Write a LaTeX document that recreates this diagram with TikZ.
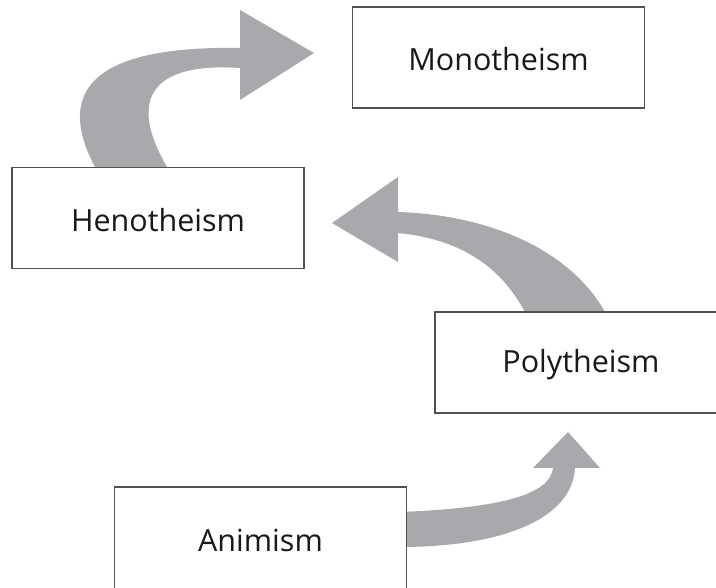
\documentclass[tikz,border=0pt]{standalone}
\usepackage{fontspec}
\setmainfont{Open Sans}
\definecolor{arrowgray}{HTML}{A7A9AC}
\definecolor{boxline}{HTML}{505050}
\begin{document}
\begin{tikzpicture}[x=1pt,y=-1pt,
  box/.style={draw=boxline,line width=1.2pt,fill=white,minimum width=292pt,minimum height=101pt,inner sep=0pt},
  boxtext/.style={inner sep=0pt,font=\fontsize{30.5}{35}\selectfont,text=black!90,yshift=-2pt},
  fatarrow/.style={fill=arrowgray,draw=none}]
\useasboundingbox (0,0) rectangle (716,588);
% arrows
\fill[fatarrow] (95,167) .. controls (62,105) and (72,45) .. (240,48)
  -- (240,10) -- (314,53) -- (240,100) -- (240,68)
  .. controls (150,62) and (128,100) .. (167,167) -- cycle;
\fill[fatarrow] (605,312) .. controls (570,250) and (490,215) .. (398,212)
  -- (398,177) -- (332,223) -- (398,262) -- (398,233)
  .. controls (470,240) and (505,275) .. (525,312) -- cycle;
\fill[fatarrow] (400,512) .. controls (500,508) and (550,495) .. (553,468)
  -- (533,468) -- (568,432) -- (600,468) -- (575,468)
  .. controls (572,520) and (500,547) .. (400,547) -- cycle;
% boxes
\node[box] (mono) at (498.5,57.5) {};
\node[boxtext] (monot) at (mono.center) {Monotheism};
\node[box] (heno) at (158,218) {};
\node[boxtext] (henot) at (heno.center) {Henotheism};
\node[box,minimum width=320pt] (poly) at (595,362.5) {};
\node[boxtext] (polyt) at (581,362.5) {Polytheism};
\node[box,minimum height=130pt] (anim) at (260.5,552) {};
\node[boxtext] (animt) at (260.5,538) {Animism};
\end{tikzpicture}
\end{document}
